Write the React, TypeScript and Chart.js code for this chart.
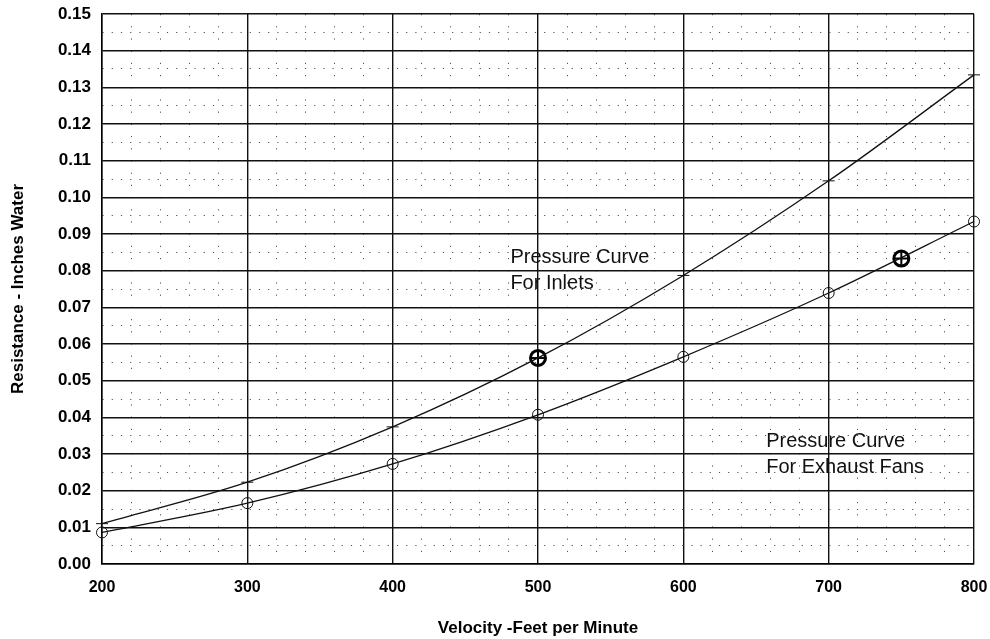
import React, { useEffect, useRef } from "react";
import { Chart, registerables } from "chart.js";

Chart.register(...registerables);

// ---- data ----
const velocity = [200, 300, 400, 500, 600, 700, 800];
const inletResistance = [0.011, 0.0223, 0.0374, 0.0562, 0.0787, 0.1045, 0.1334];
const exhaustResistance = [0.0086, 0.0166, 0.0273, 0.0407, 0.0565, 0.0739, 0.0934];
const highlightVelocity = [500, 750];
const highlightResistance = [0.0562, 0.0833];

const xTitle = "Velocity -Feet per Minute";
const yTitle = "Resistance - Inches Water";

const noteLines = [
  ["Pressure Curve", "For Inlets"],
  ["Pressure Curve", "For Exhaust Fans"],
];
const noteVelocity = [481, 657];
const noteResistance = [0.082, 0.0318];

const FONT = "'Liberation Sans', Arial, Helvetica, sans-serif";

const isMajorX = (v: number) => Math.round(v) % 100 === 0;
const isMajorY = (v: number) => Math.round(v * 1000) % 10 === 0;

const notesPlugin = {
  id: "notes",
  afterDatasetsDraw(chart: any) {
    const { ctx, scales } = chart;
    ctx.save();
    ctx.fillStyle = "#111";
    ctx.font = `20px ${FONT}`;
    ctx.textAlign = "left";
    ctx.textBaseline = "alphabetic";
    noteLines.forEach((lines, i) => {
      const x = scales.x.getPixelForValue(noteVelocity[i]);
      const y = scales.y.getPixelForValue(noteResistance[i]);
      lines.forEach((t, j) => ctx.fillText(t, x, y + j * 26));
    });
    ctx.restore();
  },
};

export default function App() {
  const ref = useRef<HTMLCanvasElement | null>(null);

  useEffect(() => {
    if (!ref.current) return;
    const pts = (xs: number[], ys: number[]) => xs.map((x, i) => ({ x, y: ys[i] }));
    const chart = new Chart(ref.current, {
      type: "line",
      data: {
        datasets: [
          {
            label: "Inlets",
            data: pts(velocity, inletResistance),
            borderColor: "#111",
            borderWidth: 1.3,
            cubicInterpolationMode: "monotone",
            pointStyle: "line",
            pointRadius: 6,
            pointBorderWidth: 1,
            pointBorderColor: "#111",
            fill: false,
            clip: false,
          },
          {
            label: "Exhaust Fans",
            data: pts(velocity, exhaustResistance),
            borderColor: "#111",
            borderWidth: 1.3,
            cubicInterpolationMode: "monotone",
            pointStyle: "circle",
            pointRadius: 5.5,
            pointBorderWidth: 1,
            pointBorderColor: "#111",
            pointBackgroundColor: "rgba(255,255,255,0)",
            fill: false,
            clip: false,
          },
          {
            label: "Highlight ring",
            data: pts(highlightVelocity, highlightResistance),
            showLine: false,
            pointStyle: "circle",
            pointRadius: 7.5,
            pointBorderWidth: 3,
            pointBorderColor: "#000",
            pointBackgroundColor: "rgba(255,255,255,0)",
            clip: false,
          },
          {
            label: "Highlight cross",
            data: pts(highlightVelocity, highlightResistance),
            showLine: false,
            pointStyle: "cross",
            pointRadius: 7,
            pointBorderWidth: 2,
            pointBorderColor: "#000",
            clip: false,
          },
        ],
      },
      options: {
        animation: false,
        responsive: true,
        maintainAspectRatio: false,
        layout: { padding: { top: 14, right: 16, left: 0, bottom: 0 } },
        plugins: { legend: { display: false }, tooltip: { enabled: false } },
        events: [],
        scales: {
          x: {
            type: "linear",
            min: 200,
            max: 800,
            afterFit: (s: any) => {
              s.height = 75;
              s.paddingLeft = 0;
              s.paddingRight = 0;
            },
            ticks: {
              stepSize: 20,
              autoSkip: false,
              maxRotation: 0,
              padding: 14,
              color: "#000",
              font: { family: FONT, size: 16, weight: "bold" },
              callback: (v: any) => (isMajorX(Number(v)) ? String(Math.round(Number(v))) : ""),
            },
            grid: {
              drawTicks: false,
              color: (c: any) => (c.tick && !isMajorX(c.tick.value) ? "#555" : "#111"),
              lineWidth: (c: any) => (c.tick && !isMajorX(c.tick.value) ? 1 : 1.4),
            },
            border: {
              display: true,
              color: "#000",
              width: 1.5,
              dash: (c: any) => (c.tick && !isMajorX(c.tick.value) ? [1.2, 11] : []),
            },
            title: {
              display: true,
              text: xTitle,
              color: "#000",
              font: { family: FONT, size: 17, weight: "bold" },
              padding: { top: 0, bottom: 0 },
            },
          },
          y: {
            type: "linear",
            min: 0,
            max: 0.15,
            afterFit: (s: any) => {
              s.width = 102;
              s.paddingTop = 0;
              s.paddingBottom = 0;
            },
            ticks: {
              stepSize: 0.005,
              autoSkip: false,
              padding: 11,
              color: "#000",
              font: { family: FONT, size: 17, weight: "bold" },
              callback: (v: any) => {
                const k = Math.round(Number(v) * 1000);
                return k % 10 === 0 ? (k / 1000).toFixed(2) : "";
              },
            },
            grid: {
              drawTicks: false,
              color: (c: any) => (c.tick && !isMajorY(c.tick.value) ? "#555" : "#111"),
              lineWidth: (c: any) => (c.tick && !isMajorY(c.tick.value) ? 1 : 1.4),
            },
            border: {
              display: true,
              color: "#000",
              width: 1.5,
              dash: (c: any) => (c.tick && !isMajorY(c.tick.value) ? [1.2, 8] : []),
            },
            title: {
              display: true,
              text: yTitle,
              color: "#000",
              font: { family: FONT, size: 17, weight: "bold" },
              padding: { top: 8, bottom: 0 },
            },
          },
        },
      },
      plugins: [notesPlugin],
    } as any);
    return () => chart.destroy();
  }, []);

  return (
    <div style={{ position: "absolute", left: 0, top: 0, width: 990, height: 639, background: "#fff" }}>
      <canvas ref={ref} />
    </div>
  );
}
